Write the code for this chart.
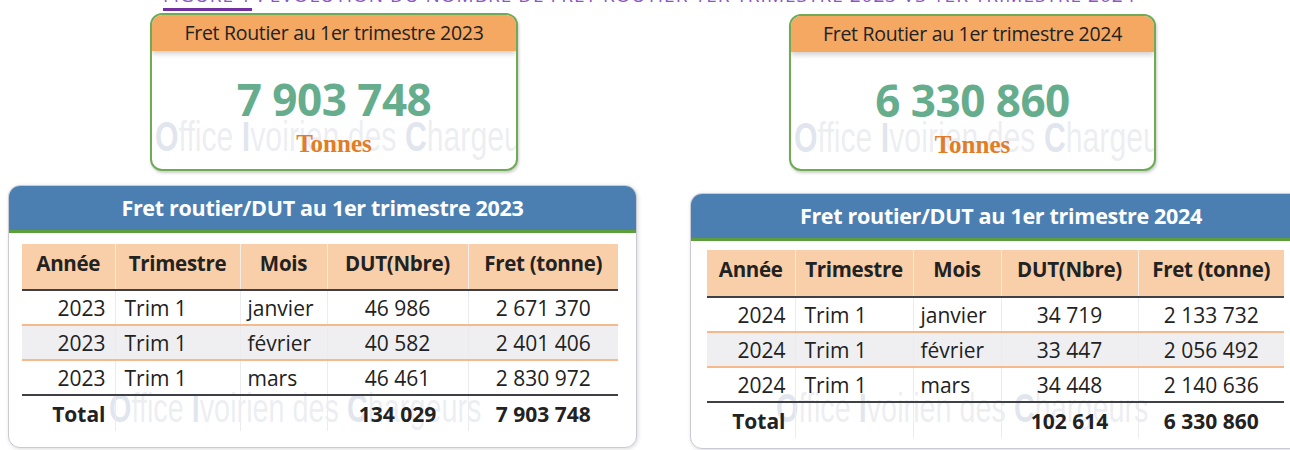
<!DOCTYPE html>
<html lang="fr">
<head>
<meta charset="utf-8">
<script src="https://cdn.jsdelivr.net/npm/chart.js@4"></script>
<style>
    body { margin: 0; width: 1290px; height: 450px; overflow: hidden; background: #fff; font-family: "Open Sans", "Noto Sans", sans-serif; position: relative; }
    .titre { position: absolute; left: 163px; top: -14px; font-size: 19px; line-height: 19px; color: #8a55c4; white-space: nowrap; letter-spacing: 1px; }
    .titre span { border-bottom: 3px solid #7030a0; }
    .kpi { position: absolute; background: #fff; border: 2px solid #6fab55; border-radius: 12px; overflow: hidden; box-shadow: 1px 2px 3px rgba(0,0,0,0.2); }
    .kpi .tete { height: 36px; line-height: 36px; background: #f4a862; text-align: center; font-size: 19.5px; color: #222; box-shadow: 0 3px 5px rgba(0,0,0,0.18); position: relative; z-index: 2; letter-spacing: -0.3px; }
    .kpi .valeur { position: absolute; left: 0; right: 0; top: 54px; text-align: center; font-size: 44px; font-weight: bold; color: #65ad8c; z-index: 2; letter-spacing: -0.5px; }
    .kpi .unite { position: absolute; left: 0; right: 0; top: 115px; text-align: center; font-family: "Liberation Serif", "DejaVu Serif", serif; font-weight: bold; font-size: 25px; color: #e07d26; z-index: 2; }
    .filigrane { position: absolute; white-space: nowrap; font-family: "Liberation Sans", sans-serif; color: rgba(200,202,212,0.32); z-index: 1; transform-origin: 0 0; transform: scaleX(0.72); }
    .filigrane b { color: rgba(160,172,200,0.32); font-weight: bold; }
    .panneau { position: absolute; background: #fff; border: 1.5px solid #c9cad3; border-radius: 12px; overflow: hidden; box-shadow: 1px 1px 4px rgba(0,0,0,0.15); }
    .panneau .bandeau { height: 44px; line-height: 44px; background: #4b7fb2; color: #fff; font-weight: bold; font-size: 21.5px; text-align: center; border-bottom: 3px solid #5c9d3c; letter-spacing: -0.3px; }
    table { position: absolute; border-collapse: collapse; font-size: 21px; color: #222; z-index: 2; }
    th { background: #f8cfa8; font-weight: bold; text-align: center; border-left: 1.5px solid #f3eee8; border-bottom: 2.5px solid #3f3f46; padding: 0 0 8px 0; font-size: 20.5px; letter-spacing: -0.3px; }
    th:first-child { border-left: none; }
    td { padding: 0; border-left: 1px solid #ececf0; white-space: nowrap; }
    td:first-child { border-left: none; }
    tr.ligne td { border-bottom: 2px solid #f5b98c; }
    tr.ligne.pair td { background: #efeff2; }
    tr.ligne.derniere td { border-bottom: 2.5px solid #3f3f46; }
    tr.total td { font-weight: bold; }
    .droite { text-align: right; padding-right: 9px; }
    .gauche { text-align: left; padding-left: 9px; }
    .centre { text-align: center; }
</style>
</head>
<body>

<div class="titre"><span>FIGURE 1</span> : ÉVOLUTION DU NOMBRE DE FRET ROUTIER 1ER TRIMESTRE 2023 VS 1ER TRIMESTRE 2024</div>

<div id="zone"></div>

<script>
// Données
const annees = [2023, 2024];
const mois = ['janvier', 'février', 'mars'];
const trimestre = 'Trim 1';
const colonnes = ['Année', 'Trimestre', 'Mois', 'DUT(Nbre)', 'Fret (tonne)'];
const dut2023 = [46986, 40582, 46461];
const fret2023 = [2671370, 2401406, 2830972];
const dut2024 = [34719, 33447, 34448];
const fret2024 = [2133732, 2056492, 2140636];

function formaterNombre(n) {
    return n.toString().replace(/\B(?=(\d{3})+(?!\d))/g, ' ');
}

function somme(tab) {
    return tab.reduce((a, b) => a + b, 0);
}

function filigrane(x, y, taille) {
    return '<div class="filigrane" style="left:' + x + 'px;top:' + y + 'px;font-size:' + taille + 'px">' +
        '<b>O</b>ffice <b>I</b>voirien des <b>C</b>hargeurs</div>';
}

function carteKpi(annee, fret, pos) {
    const total = formaterNombre(somme(fret));
    return '<div class="kpi" style="left:' + pos.x + 'px;top:' + pos.y + 'px;width:' + pos.w + 'px;height:' + pos.h + 'px">' +
        '<div class="tete">Fret Routier au 1er trimestre ' + annee + '</div>' +
        filigrane(3, 98, 42) +
        '<div class="valeur">' + total + '</div>' +
        '<div class="unite">Tonnes</div>' +
        '</div>';
}

function panneauTable(annee, dut, fret, pos) {
    let html = '<div class="panneau" style="left:' + pos.x + 'px;top:' + pos.y + 'px;width:' + pos.w + 'px;height:' + pos.h + 'px">';
    html += '<div class="bandeau">Fret routier/DUT au 1er trimestre ' + annee + '</div>';
    html += filigrane(pos.fx, pos.fy, 40);
    html += '<table style="left:' + pos.tx + 'px;top:' + pos.ty + 'px;width:' + pos.tw + 'px">';
    html += '<colgroup>' + pos.cols.map((c) => '<col style="width:' + c + 'px">').join('') + '</colgroup>';
    html += '<tr style="height:' + pos.hh + 'px">' + colonnes.map((c) => '<th>' + c + '</th>').join('') + '</tr>';
    mois.forEach((m, i) => {
        let classe = 'ligne';
        if (i % 2 === 1) classe += ' pair';
        if (i === mois.length - 1) classe += ' derniere';
        html += '<tr class="' + classe + '" style="height:' + pos.rh + 'px">' +
            '<td class="droite">' + annee + '</td>' +
            '<td class="gauche">' + trimestre + '</td>' +
            '<td class="gauche" style="padding-left:7px">' + m + '</td>' +
            '<td class="centre">' + formaterNombre(dut[i]) + '</td>' +
            '<td class="centre">' + formaterNombre(fret[i]) + '</td></tr>';
    });
    html += '<tr class="total" style="height:' + pos.th + 'px">' +
        '<td class="droite">Total</td><td></td><td></td>' +
        '<td class="centre">' + formaterNombre(somme(dut)) + '</td>' +
        '<td class="centre">' + formaterNombre(somme(fret)) + '</td></tr>';
    html += '</table></div>';
    return html;
}

const zone = document.getElementById('zone');
zone.innerHTML =
    carteKpi(annees[0], fret2023, { x: 150, y: 13, w: 364, h: 154 }) +
    carteKpi(annees[1], fret2024, { x: 789, y: 14, w: 363, h: 153 }) +
    panneauTable(annees[0], dut2023, fret2023, {
        x: 8, y: 185, w: 627, h: 261, tx: 13, ty: 58, tw: 596,
        cols: [93, 125, 87, 141, 150], hh: 46, rh: 35, th: 36, fx: 100, fy: 200
    }) +
    panneauTable(annees[1], dut2024, fret2024, {
        x: 690, y: 193, w: 620, h: 254, tx: 16, ty: 56, tw: 577,
        cols: [88, 118, 88, 137, 146], hh: 47, rh: 35, th: 36, fx: 85, fy: 192
    });
</script>
</body>
</html>
